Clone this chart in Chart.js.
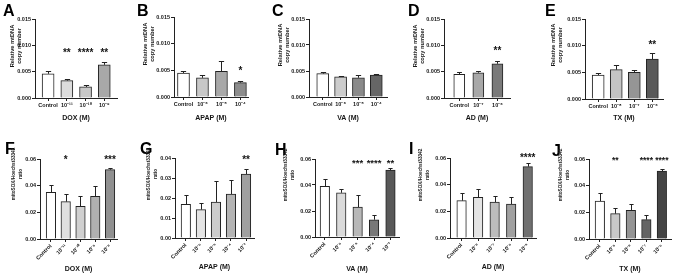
<!DOCTYPE html>
<html><head><meta charset="utf-8">
<script src="https://cdn.jsdelivr.net/npm/chart.js@4.4.0/dist/chart.umd.min.js"></script>
<style>
html,body{margin:0;padding:0;background:#fff;}
body{width:676px;height:275px;position:relative;overflow:hidden;font-family:"Liberation Sans",Arial,sans-serif;}
.box{position:absolute;z-index:1;}
.letter{position:absolute;font-weight:bold;font-size:16px;line-height:1;color:#000;z-index:2;}
.ytitle{position:absolute;left:0;top:0;width:90px;font-weight:bold;text-align:center;white-space:nowrap;color:#1a1a1a;z-index:3;transform-origin:50% 50%;}
</style></head><body>
<script>
// ---------- DATA ----------
const A_labels = ["Control","10⁻¹¹","10⁻¹⁰","10⁻⁹"];
const A_means  = [0.0046,0.0033,0.0021,0.0063];
const A_errs   = [0.0005,0.0004,0.0004,0.0005];
const A_sig    = ["","**","****","**"];

const B_labels = ["Control","10⁻⁶","10⁻⁵","10⁻⁴"];
const B_means  = [0.0045,0.0036,0.0048,0.0027];
const B_errs   = [0.0004,0.0005,0.0019,0.0003];
const B_sig    = ["","","","*"];

const C_labels = ["Control","10⁻⁶","10⁻⁵","10⁻⁴"];
const C_means  = [0.0045,0.0039,0.0037,0.0042];
const C_errs   = [0.0004,0.0001,0.0006,0.0002];
const C_sig    = ["","","",""];

const D_labels = ["Control","10⁻⁷","10⁻⁶"];
const D_means  = [0.0045,0.0048,0.0065];
const D_errs   = [0.0004,0.0003,0.0006];
const D_sig    = ["","","**"];

const E_labels = ["Control","10⁻⁸","10⁻⁷","10⁻⁶"];
const E_means  = [0.0045,0.0055,0.0050,0.0075];
const E_errs   = [0.0004,0.0008,0.0004,0.0011];
const E_sig    = ["","","","**"];

const F_labels = ["Control","10⁻¹¹","10⁻¹⁰","10⁻⁹","10⁻⁸"];
const F_means  = [0.035,0.028,0.0245,0.032,0.052];
const F_errs   = [0.0055,0.0055,0.008,0.0075,0.0015];
const F_sig    = ["","*","","","***"];

const G_labels = ["Control","10⁻⁶","10⁻⁵","10⁻⁴","10⁻³"];
const G_means  = [0.0168,0.0142,0.018,0.022,0.032];
const G_errs   = [0.0047,0.0035,0.0103,0.0072,0.0025];
const G_sig    = ["","","","","**"];

const H_labels = ["Control","10⁻⁶","10⁻⁵","10⁻⁴","10⁻³"];
const H_means  = [0.039,0.034,0.023,0.0133,0.0515];
const H_errs   = [0.0053,0.0033,0.0095,0.0037,0.0015];
const H_sig    = ["","","***","****","**"];

const I_labels = ["Control","10⁻⁸","10⁻⁷","10⁻⁶","10⁻⁵"];
const I_means  = [0.028,0.0305,0.027,0.0255,0.0535];
const I_errs   = [0.0055,0.006,0.0045,0.005,0.0025];
const I_sig    = ["","","","","****"];

const J_labels = ["Control","10⁻⁹","10⁻⁸","10⁻⁷","10⁻⁶"];
const J_means  = [0.0285,0.019,0.0215,0.0145,0.051];
const J_errs   = [0.006,0.0045,0.005,0.0035,0.0015];
const J_sig    = ["","**","","****","****"];

const topYTitle = ["Relative mtDNA","copy number"];
const botYTitle = ["mitoSOX/Hoechst33342","ratio"];

// ---------- RENDERING ----------
const FONT = "'Liberation Sans', Arial, sans-serif";
const INK = '#222222';
const TXT = '#151515';

const errorBarsPlugin = {
  id: 'errbars',
  afterDatasetsDraw(chart, args, opts) {
    const ctx = chart.ctx, ys = chart.scales.y;
    const ds = chart.data.datasets[0], meta = chart.getDatasetMeta(0);
    ctx.save();
    ctx.strokeStyle = INK; ctx.lineWidth = 1;
    meta.data.forEach((bar, i) => {
      const v = ds.data[i].y, e = opts.errors[i];
      const x = Math.round(bar.x) + 0.5;
      const y0 = ys.getPixelForValue(v);
      const y1 = Math.round(ys.getPixelForValue(v + e)) + 0.5;
      const half = Math.max(2, bar.width * 0.22);
      ctx.beginPath();
      ctx.moveTo(x, y0); ctx.lineTo(x, y1);
      ctx.moveTo(x - half, y1); ctx.lineTo(x + half, y1);
      ctx.stroke();
      const s = opts.sig[i];
      if (s) {
        ctx.fillStyle = TXT;
        ctx.font = 'bold ' + opts.starSize + 'px ' + FONT;
        ctx.textAlign = 'center'; ctx.textBaseline = 'alphabetic';
        ctx.fillText(s, bar.x, ys.getPixelForValue(opts.sigLevel) + 0.57 * opts.starSize);
      }
    });
    ctx.restore();
  }
};

function addText(cls, html, css) {
  const d = document.createElement('div');
  d.className = cls; d.innerHTML = html; d.style.cssText += css;
  document.body.appendChild(d);
  return d;
}

function yTitle(lines, cx, cy, size, lh) {
  const W = 90, H = lh * lines.length;
  const d = addText('ytitle', lines.join('<br>'),
    `font-size:${size}px;line-height:${lh}px;height:${H}px;`);
  const tx = Math.round(cx - W / 2), ty = Math.round(cy - H / 2);
  d.style.transform = `translate(${tx}px,${ty}px) rotate(-90deg)`;
}

function addPanel(p) {
  const yW = 28, padTop = 12, padRight = 6;
  const lhX = p.xtSize * 1.2;
  const xH = Math.round(p.xTitleY + lhX / 2 + 1 - p.bottom);
  const left = p.axis - yW, top = p.top - padTop;
  const w = p.right - p.axis + yW + padRight;
  const h = p.bottom - p.top + padTop + xH;
  const div = document.createElement('div');
  div.className = 'box';
  div.style.cssText = `left:${left}px;top:${top}px;width:${w}px;height:${h}px;`;
  const c = document.createElement('canvas');
  div.appendChild(c); document.body.appendChild(div);

  addText('letter', p.letter, `left:${p.lx}px;top:${p.ly - 2}px;`);
  yTitle(p.yTitle, p.ytx, p.yty, p.ytSize, p.ytLh);

  new Chart(c, {
    type: 'bar',
    data: {
      datasets: [{
        data: p.labels.map((l, i) => ({x: i, y: p.means[i]})),
        backgroundColor: p.colors,
        borderColor: INK,
        borderWidth: 1,
        barThickness: p.barW
      }]
    },
    options: {
      animation: false, responsive: true, maintainAspectRatio: false,
      layout: {padding: {top: padTop, right: padRight, left: 0, bottom: 0}},
      plugins: {
        legend: {display: false}, tooltip: {enabled: false},
        errbars: {errors: p.errs, sig: p.sig, sigLevel: p.sigLevel, starSize: p.starSize || 10}
      },
      scales: {
        x: {
          type: 'linear', offset: false, min: p.xmin, max: p.labels.length - 1 + p.xmaxPad,
          grid: {drawOnChartArea: false, drawTicks: true, tickLength: 3, color: INK, lineWidth: 1, offset: false},
          border: {color: INK, width: 1},
          ticks: {
            stepSize: 1, includeBounds: false, autoSkip: false,
            minRotation: p.rot, maxRotation: p.rot, padding: 1,
            color: TXT, font: {family: FONT, size: p.tickSize, weight: 'bold'},
            callback: (v) => (Number.isInteger(v) && p.labels[v] !== undefined) ? p.labels[v] : ''
          },
          title: {display: true, text: p.xTitle, color: TXT, padding: {top: 0, bottom: 1},
                  font: {family: FONT, size: p.xtSize, weight: 'bold'}},
          afterFit: (s) => { s.height = xH; }
        },
        y: {
          min: 0, max: p.ymax,
          grid: {drawOnChartArea: false, drawTicks: true, tickLength: 3, color: INK, lineWidth: 1},
          border: {color: INK, width: 1},
          ticks: {stepSize: p.step, padding: 1, color: TXT,
                  font: {family: FONT, size: p.tickSize, weight: 'bold'},
                  callback: (v) => v.toFixed(p.dec)},
          afterFit: (s) => { s.width = yW; }
        }
      }
    },
    plugins: [errorBarsPlugin]
  });
}

const topCommon = {ymax: 0.015, step: 0.005, dec: 3, rot: 0, tickSize: 5.5, xtSize: 7,
                   xTitleY: 118, barW: 12, yTitle: topYTitle, ytSize: 5.7, ytLh: 7};
const botCommon = {ymax: 0.06, step: 0.02, dec: 2, rot: 45, tickSize: 5.5, xtSize: 7,
                   xTitleY: 269, barW: 9.5, yTitle: botYTitle, ytSize: 4.7, ytLh: 7};

const panels = [
  Object.assign({}, topCommon, {letter:'A', lx:3, ly:5, labels:A_labels, means:A_means, errs:A_errs, sig:A_sig,
    sigLevel:0.0091, xTitle:'DOX (M)', axis:35, right:117, top:19, bottom:98, xmin:-0.7, xmaxPad:0.68,
    ytx:16, yty:46, colors:['#ffffff','#dcdcdc','#c8c8c8','#a8a8a8']}),
  Object.assign({}, topCommon, {letter:'B', lx:137, ly:5, labels:B_labels, means:B_means, errs:B_errs, sig:B_sig,
    sigLevel:0.0054, xTitle:'APAP (M)', axis:174, right:248, top:17, bottom:97, xmin:-0.5, xmaxPad:0.4,
    ytx:149, yty:44, colors:['#ffffff','#c8c8c8','#a8a8a8','#8c8c8c']}),
  Object.assign({}, topCommon, {letter:'C', lx:272, ly:5, labels:C_labels, means:C_means, errs:C_errs, sig:C_sig,
    sigLevel:0.009, xTitle:'VA (M)', axis:309, right:387, top:19, bottom:97, xmin:-0.77, xmaxPad:0.6,
    ytx:284, yty:45, colors:['#ffffff','#cccccc','#8a8a8a','#666666']}),
  Object.assign({}, topCommon, {letter:'D', lx:408, ly:5, labels:D_labels, means:D_means, errs:D_errs, sig:D_sig,
    sigLevel:0.0095, xTitle:'AD (M)', axis:444, right:510, top:19, bottom:98, xmin:-0.8, xmaxPad:0.66, barW:11,
    ytx:419, yty:46, colors:['#ffffff','#a8a8a8','#7a7a7a']}),
  Object.assign({}, topCommon, {letter:'E', lx:545, ly:5, labels:E_labels, means:E_means, errs:E_errs, sig:E_sig,
    sigLevel:0.0106, xTitle:'TX (M)', axis:585, right:663, top:19, bottom:99, xmin:-0.73, xmaxPad:0.59,
    ytx:557, yty:45, colors:['#ffffff','#c4c4c4','#959595','#595959']}),

  Object.assign({}, botCommon, {letter:'F', lx:5, ly:143, labels:F_labels, means:F_means, errs:F_errs, sig:F_sig,
    sigLevel:0.061, xTitle:'DOX (M)', axis:40, right:117, top:159, bottom:239, xmin:-0.74, xmaxPad:0.47,
    ytx:17, yty:174, colors:['#ffffff','#e0e0e0','#d0d0d0','#b0b0b0','#909090']}),
  Object.assign({}, botCommon, {letter:'G', lx:140, ly:143, labels:G_labels, means:G_means, errs:G_errs, sig:G_sig,
    ymax:0.04, step:0.01, sigLevel:0.0405, xTitle:'APAP (M)', axis:175, right:254, top:158, bottom:238, xmin:-0.72, xmaxPad:0.53,
    xTitleY:267, ytx:152, yty:174, colors:['#ffffff','#e4e4e4','#cccccc','#b4b4b4','#a0a0a0']}),
  Object.assign({}, botCommon, {letter:'H', lx:275, ly:144, labels:H_labels, means:H_means, errs:H_errs, sig:H_sig,
    sigLevel:0.059, xTitle:'VA (M)', axis:315, right:399, top:159, bottom:237, xmin:-0.6, xmaxPad:0.52,
    starSize:9.5, ytx:289, yty:175, colors:['#ffffff','#dadada','#b8b8b8','#787878','#585858']}),
  Object.assign({}, botCommon, {letter:'I', lx:409, ly:143, labels:I_labels, means:I_means, errs:I_errs, sig:I_sig,
    sigLevel:0.0623, xTitle:'AD (M)', axis:450, right:536, top:158, bottom:238, xmin:-0.7, xmaxPad:0.5,
    xTitleY:267, ytx:424, yty:175, colors:['#ffffff','#e4e4e4','#bcbcbc','#a0a0a0','#707070']}),
  Object.assign({}, botCommon, {letter:'J', lx:552, ly:145, labels:J_labels, means:J_means, errs:J_errs, sig:J_sig,
    sigLevel:0.0605, xTitle:'TX (M)', axis:589, right:671, top:159, bottom:239, xmin:-0.7, xmaxPad:0.59,
    starSize:8.5, ytx:564, yty:175, colors:['#ffffff','#c8c8c8','#949494','#646464','#444444']})
];

panels.forEach(addPanel);
</script>
</body></html>
